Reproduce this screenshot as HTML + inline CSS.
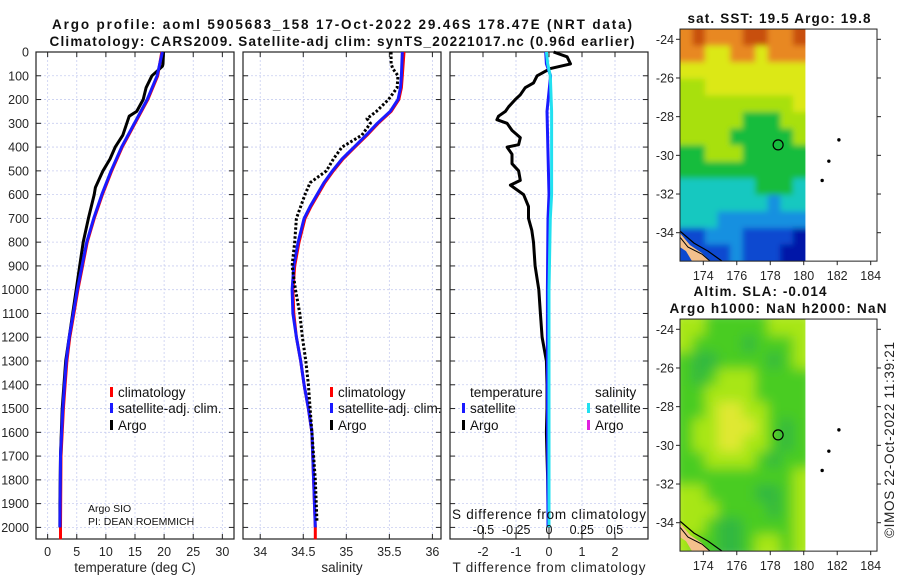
<!DOCTYPE html>
<html><head><meta charset="utf-8"><style>
html,body{margin:0;padding:0;background:#fff;}
svg{display:block;font-family:"Liberation Sans","DejaVu Sans",sans-serif;}
</style></head><body>
<svg id="chart" width="900" height="580" viewBox="0 0 900 580" xmlns="http://www.w3.org/2000/svg">
<defs>
<filter id="blurS" x="-5%" y="-5%" width="110%" height="110%"><feGaussianBlur stdDeviation="3"/></filter>
<filter id="blurL" x="-5%" y="-5%" width="110%" height="110%"><feGaussianBlur stdDeviation="6"/></filter>
</defs>
</svg>
<script>
// ---------- data ----------
const depthTicks = [0,100,200,300,400,500,600,700,800,900,1000,1100,1200,1300,1400,1500,1600,1700,1800,1900,2000];
const tempTicks = [0,5,10,15,20,25,30];
const salTicks = [34,34.5,35,35.5,36];
const salTickLabels = ['34','34.5','35','35.5','36'];
const tdiffTicks = [-2,-1,0,1,2];
const sdiffTicks = [-0.5,-0.25,0,0.25,0.5];
const sdiffTickLabels = ['-0.5','-0.25','0','0.25','0.5'];

const argoTDepth = [0,50,60,100,150,200,250,270,300,350,400,450,500,570,600,700,800,900,1000,1100,1200,1300,1500,1700,1900,2000];
const argoTemp   = [19.9,19.8,19.7,17.9,16.9,16.4,15.3,14.0,13.6,12.9,11.6,10.7,9.5,8.2,8.0,7.0,6.1,5.5,4.9,4.3,3.7,3.1,2.5,2.2,2.1,2.1];
const climDepth = [0,100,200,300,400,500,600,700,800,900,1000,1100,1200,1300,1400,1500,1700,2000,2050];
const climTemp  = [19.6,18.9,17.2,15.0,12.8,11.0,9.4,8.0,6.8,6.0,5.2,4.5,3.8,3.3,3.0,2.7,2.3,2.2,2.2];
const satTemp   = [19.7,18.8,17.1,14.9,12.7,10.9,9.3,7.9,6.7,5.9,5.1,4.4,3.7,3.2,2.9,2.6,2.2,2.1,2.1];

const salDepth = [0,100,150,200,250,300,350,400,450,500,550,600,650,700,800,900,1000,1100,1200,1300,1400,1500,1600,1800,2000,2050];
const climSal  = [35.67,35.65,35.64,35.61,35.52,35.37,35.24,35.10,34.96,34.85,34.75,34.67,34.59,34.52,34.45,34.40,34.38,34.39,34.42,34.47,34.51,34.56,34.60,34.62,34.64,34.64];
const satSal   = [35.65,35.64,35.63,35.60,35.51,35.36,35.23,35.09,34.95,34.84,34.74,34.66,34.58,34.51,34.44,34.39,34.37,34.38,34.42,34.47,34.51,34.56,34.60,34.62,34.64,34.64];
const argoSDepth = [0,50,70,100,150,200,250,280,300,350,400,450,500,550,600,700,800,900,1000,1100,1200,1300,1400,1500,1600,1800,1980];
const argoSal    = [35.52,35.52,35.54,35.60,35.59,35.49,35.35,35.24,35.28,35.18,34.95,34.85,34.77,34.58,34.52,34.42,34.40,34.37,34.41,34.46,34.49,34.53,34.56,34.58,34.60,34.64,34.66];

const diffDepth = [0,20,50,70,100,130,150,180,200,230,250,270,285,300,330,360,390,400,430,470,500,540,560,600,650,700,750,800,900,1000,1100,1200,1300,1400,1500,1600,1700,1800,1900,2000];
const argoTDiff = [0.14,0.55,0.65,0.04,-0.36,-0.47,-0.72,-0.87,-1.02,-1.22,-1.32,-1.53,-1.58,-1.27,-1.12,-0.87,-0.92,-1.27,-1.12,-1.12,-0.92,-0.87,-1.17,-0.77,-0.62,-0.62,-0.52,-0.47,-0.42,-0.31,-0.26,-0.21,-0.08,-0.06,-0.06,-0.08,-0.06,-0.04,-0.03,0];
const satDiffDepth = [0,50,100,250,600,700,1000,1400,2000];
const satTDiff = [-0.10,-0.08,0.05,-0.06,0.0,-0.03,-0.05,-0.05,-0.03];
const satSDiff = [-0.02,-0.01,0.01,0.02,0.02,0.01,0.0,0.0,0.0];

const lonTicks = [174,176,178,180,182,184];
const latTicks = [-24,-26,-28,-30,-32,-34];
const sstGrid = [
 [7,8,7,7,7,8,8,7,7,8],
 [7,7,6,6,7,7,6,7,7,7],
 [6,6,6,6,6,6,6,6,6,6],
 [5,5,6,6,6,6,6,6,6,6],
 [5,5,5,5,5,5,5,5,5,6],
 [5,5,5,5,5,4,4,4,5,5],
 [5,5,5,5,4,4,4,4,4,5],
 [4,4,5,5,5,4,4,4,4,4],
 [4,4,4,4,4,4,4,4,4,4],
 [3,3,3,3,3,3,4,4,4,3],
 [3,3,3,3,3,3,3,2,3,3],
 [3,3,3,2,2,2,2,2,2,2],
 [1,1,2,2,2,1,1,1,1,0],
 [1,1,1,1,2,1,1,1,0,0]];
const slaGrid = [
 [3,3,2,2,2,2,2,3,3,3],
 [3,2,2,2,2,1,2,2,2,3],
 [2,1,1,2,2,2,2,1,2,3],
 [2,1,2,3,3,3,2,2,2,2],
 [2,2,3,3,3,3,2,2,2,2],
 [2,2,3,4,4,3,3,2,2,2],
 [2,3,3,4,4,4,3,2,1,2],
 [2,3,3,4,4,3,3,2,1,2],
 [2,2,3,3,3,3,2,1,2,2],
 [2,2,2,2,2,2,2,2,2,3],
 [3,3,2,2,2,2,1,1,2,3],
 [3,3,3,2,2,2,2,1,2,3],
 [3,3,2,1,1,2,2,2,2,3],
 [3,2,2,1,1,2,3,3,2,3]];
const islandLon = [182.1,181.5,181.1];
const islandLat = [-29.2,-30.3,-31.3];
const argoLon = 178.47, argoLat = -29.46;

// ---------- helpers ----------
const NS='http://www.w3.org/2000/svg';
const svg=document.getElementById('chart');
function el(tag,attrs,parent){const e=document.createElementNS(NS,tag);for(const k in attrs)e.setAttribute(k,attrs[k]);(parent||svg).appendChild(e);return e;}
function txt(s,attrs,parent){const e=el('text',attrs,parent);e.textContent=s;return e;}
const Y0=52, Y1=539;
const yD = d => Y0 + d*0.23770;
function linX(min,max,x0,x1){return v => x0+(v-min)/(max-min)*(x1-x0);}
const panels=[
 {x0:36,x1:234,sx:linX(-2,32,36,234),ticks:tempTicks,labels:tempTicks.map(String),name:'temperature'},
 {x0:243,x1:441,sx:linX(33.8,36.1,243,441),ticks:salTicks,labels:salTickLabels,name:'salinity'},
 {x0:450,x1:648,sx:linX(-3,3,450,648),ticks:tdiffTicks,labels:tdiffTicks.map(String),name:'difference'}];
const sxS = linX(-0.755,0.755,450,648);

panels.forEach((p,i)=>{
  const g=el('g',{});
  
  
  el('rect',{x:p.x0,y:Y0,width:p.x1-p.x0,height:Y1-Y0,fill:'#fff'},g);
  depthTicks.forEach(d=>{
    el('line',{x1:p.x0,x2:p.x1,y1:yD(d),y2:yD(d),stroke:'#c8cef0','stroke-width':0.8,'stroke-dasharray':'2,2'},g);
    el('line',{x1:p.x0,x2:p.x0+5,y1:yD(d),y2:yD(d),stroke:'#222','stroke-width':1},g);
    el('line',{x1:p.x1-5,x2:p.x1,y1:yD(d),y2:yD(d),stroke:'#222','stroke-width':1},g);
  });
  p.ticks.forEach((t,j)=>{
    const x=p.sx(t);
    el('line',{x1:x,x2:x,y1:Y0,y2:Y1,stroke:'#c8cef0','stroke-width':0.8,'stroke-dasharray':'2,2'},g);
    el('line',{x1:x,x2:x,y1:Y1,y2:Y1-5,stroke:'#222'},g);
    el('line',{x1:x,x2:x,y1:Y0,y2:Y0+5,stroke:'#222'},g);
    const t1=txt(p.labels[j],{x:x,y:556,'font-size':12.5,'text-anchor':'middle',fill:'#262626'});
    
    
  });
  el('rect',{x:p.x0,y:Y0,width:p.x1-p.x0,height:Y1-Y0,fill:'none',stroke:'#222','stroke-width':1.2},g);
});
depthTicks.forEach(d=>{
  const t=txt(String(d),{x:29,y:yD(d)+4.5,'font-size':12.5,'text-anchor':'end',fill:'#262626'});
  
  
});

function line(xs,ds,sx,attrs,name){
  const pts=xs.map((v,i)=>sx(v).toFixed(1)+','+yD(ds[i]).toFixed(1)).join(' ');
  const e=el('polyline',Object.assign({points:pts,fill:'none','stroke-linejoin':'round'},attrs));
  
  
  return e;
}
line(climTemp,climDepth,panels[0].sx,{stroke:'#f00','stroke-width':3},'temp-climatology-line');
line(argoTemp,argoTDepth,panels[0].sx,{stroke:'#000','stroke-width':3},'temp-argo-line');
line(satTemp,climDepth.slice(0,18),panels[0].sx,{stroke:'#1a1aff','stroke-width':3},'temp-satellite-line');
line(climSal,salDepth,panels[1].sx,{stroke:'#f00','stroke-width':3},'sal-climatology-line');
line(satSal.slice(0,25),salDepth.slice(0,25),panels[1].sx,{stroke:'#1a1aff','stroke-width':3},'sal-satellite-line');
line(argoSal,argoSDepth,panels[1].sx,{stroke:'#000','stroke-width':3,'stroke-dasharray':'2.5,2'},'sal-argo-line');
line(argoTDiff,diffDepth,panels[2].sx,{stroke:'#000','stroke-width':3},'tdiff-argo-line');
line(satTDiff,satDiffDepth,panels[2].sx,{stroke:'#1a1aff','stroke-width':3},'tdiff-satellite-line');
line(satSDiff,satDiffDepth,sxS,{stroke:'#22e0f0','stroke-width':3},'sdiff-satellite-line');

sdiffTicks.forEach((t,j)=>{
  const x=sxS(t);
  el('line',{x1:x,x2:x,y1:Y1-5,y2:Y1-12,stroke:'#222'});
  const e=txt(sdiffTickLabels[j],{x:x,y:534,'font-size':12.5,'text-anchor':'middle',fill:'#111'});
  
  
});
let e;
e=txt('S difference from climatology',{x:549,y:519,'font-size':13.5,'text-anchor':'middle',fill:'#111',textLength:194});
 

e=txt('temperature (deg C)',{x:135,y:572,'font-size':13.5,'text-anchor':'middle',fill:'#262626'});
 
e=txt('salinity',{x:342,y:572,'font-size':13.5,'text-anchor':'middle',fill:'#262626'});
 
e=txt('T difference from climatology',{x:549,y:572,'font-size':13.5,'text-anchor':'middle',fill:'#262626',textLength:193});
 

e=txt('Argo profile: aoml 5905683_158 17-Oct-2022 29.46S 178.47E (NRT data)',{x:342,y:29,'font-size':13.5,'font-weight':'bold','text-anchor':'middle',fill:'#111',textLength:580});
 
e=txt('Climatology: CARS2009. Satellite-adj clim: synTS_20221017.nc (0.96d earlier)',{x:342,y:46,'font-size':13.5,'font-weight':'bold','text-anchor':'middle',fill:'#111',textLength:585});
 

function legend(x,y,color,label,name){
  el('rect',{x:x,y:y-10,width:3,height:10,fill:color});
  const t=txt(label,{x:x+8,y:y,'font-size':13.5,fill:'#111'});
  
  
}
legend(110,397,'#f00','climatology','temp-legend-climatology');
legend(110,413,'#1a1aff','satellite-adj. clim.','temp-legend-satellite');
legend(110,430,'#000','Argo','temp-legend-argo');
legend(330,397,'#f00','climatology','sal-legend-climatology');
legend(330,413,'#1a1aff','satellite-adj. clim.','sal-legend-satellite');
legend(330,430,'#000','Argo','sal-legend-argo');
e=txt('temperature',{x:470,y:397,'font-size':13.5,fill:'#111'});
 
legend(462,413,'#1a1aff','satellite','diff-legend-temp-satellite');
legend(462,430,'#000','Argo','diff-legend-temp-argo');
e=txt('salinity',{x:595,y:397,'font-size':13.5,fill:'#111'});
 
legend(587,413,'#22e0f0','satellite','diff-legend-sal-satellite');
legend(587,430,'#e020e0','Argo','diff-legend-sal-argo');

e=txt('Argo SIO',{x:88,y:512,'font-size':10.5,fill:'#111'});
 
e=txt('PI: DEAN ROEMMICH',{x:88,y:525,'font-size':10.5,fill:'#111'});
 

// ---------- maps ----------
const lonX = lon => 703.3+(lon-174)*16.74;
const sstColors=['#0018a8','#0848d0','#1890e0','#18c8c0','#18bc3c','#a8e010','#dce818','#e88820','#c85010'];
const slaColors=['#20a040','#30b840','#48cc20','#a8e614','#e0e830'];
let mapCount=0;
function drawMap(grid,colors,top,name,blurId){
  const latY = lat => top+10.3+(-24-lat)*19.34;
  const g=el('g',{});
  
  
  const mx0=680,mx1=877,my0=latY(-23.47),my1=latY(-35.47);
  el('rect',{x:mx0,y:my0,width:mx1-mx0,height:my1-my0,fill:'#fff'},g);
  const rows=grid.length, cols=grid[0].length;
  const dx0=lonX(172.6), dx1=lonX(180.1);
  const cw=(dx1-dx0)/cols, ch=(my1-my0)/rows;
  const cid='clip'+(mapCount++);
  const cp=el('clipPath',{id:cid},svg.querySelector('defs'));
  el('rect',{x:dx0,y:my0,width:dx1-dx0,height:my1-my0},cp);
  const cg=el('g',{'clip-path':`url(#${cid})`},g);
  const bg=el('g',{filter:`url(#${blurId})`},cg);
  grid.forEach((row,r)=>row.forEach((v,c)=>{
    const x=dx0+c*cw - (c===0?8:0), w=cw+0.6+(c===0?8:0)+(c===cols-1?8:0);
    const y=my0+r*ch - (r===0?8:0), h=ch+0.6+(r===0?8:0)+(r===rows-1?8:0);
    const cell=el('rect',{x:x.toFixed(2),y:y.toFixed(2),width:w.toFixed(2),height:h.toFixed(2),fill:colors[v]},bg);
    
    
  }));
  el('polygon',{points:`${mx0},${my1-28} ${mx0+10},${my1-16} ${mx0+22},${my1-8} ${mx0+30},${my1} ${mx0+12},${my1} ${mx0+6},${my1-10} ${mx0},${my1-14}`,fill:'#f4c08c'},g);
  el('polyline',{points:`${mx0},${my1-30} ${mx0+14},${my1-18} ${mx0+28},${my1-10} ${mx0+42},${my1}`,fill:'none',stroke:'#000','stroke-width':1.2},g);
  el('polyline',{points:`${mx0},${my1-24} ${mx0+8},${my1-14} ${mx0+22},${my1-7} ${mx0+30},${my1}`,fill:'none',stroke:'#000','stroke-width':1},g);
  islandLon.forEach((lo,i)=>{
    const d=el('circle',{cx:lonX(lo),cy:latY(islandLat[i]),r:1.7,fill:'#000'},g);
    
    
  });
  const c=el('circle',{cx:lonX(argoLon),cy:latY(argoLat),r:5,fill:'none',stroke:'#000','stroke-width':1.2},g);
  
  
  el('rect',{x:mx0,y:my0,width:mx1-mx0,height:my1-my0,fill:'none',stroke:'#222','stroke-width':1},g);
  latTicks.forEach(l=>{
    const y=latY(l);
    el('line',{x1:mx0-4,x2:mx0,y1:y,y2:y,stroke:'#222'},g);
    el('line',{x1:mx1,x2:mx1+4,y1:y,y2:y,stroke:'#222'},g);
    const t=txt(String(l),{x:674,y:y+4.5,'font-size':12.5,'text-anchor':'end',fill:'#262626'},g);
    
    
  });
  lonTicks.forEach(lo=>{
    const x=lonX(lo);
    el('line',{x1:x,x2:x,y1:my1,y2:my1+4,stroke:'#222'},g);
    const t=txt(String(lo),{x:x,y:my1+19,'font-size':12.5,'text-anchor':'middle',fill:'#262626'},g);
    
    
  });
}
drawMap(sstGrid,sstColors,29,'sst-map','blurS');
drawMap(slaGrid,slaColors,319,'sla-map','blurL');

e=txt('sat. SST: 19.5 Argo: 19.8',{x:779,y:23,'font-size':13.5,'font-weight':'bold','text-anchor':'middle',fill:'#111',textLength:183});
 
e=txt('Altim. SLA: -0.014',{x:760,y:296,'font-size':13.5,'font-weight':'bold','text-anchor':'middle',fill:'#111',textLength:133});
 
e=txt('Argo h1000: NaN h2000: NaN',{x:778,y:313,'font-size':13.5,'font-weight':'bold','text-anchor':'middle',fill:'#111',textLength:217});
 
e=txt('©IMOS 22-Oct-2022 11:39:21',{x:0,y:0,'font-size':13.5,'text-anchor':'middle',fill:'#222',transform:'translate(894,440) rotate(-90)',textLength:196});
 
</script>
</body></html>
